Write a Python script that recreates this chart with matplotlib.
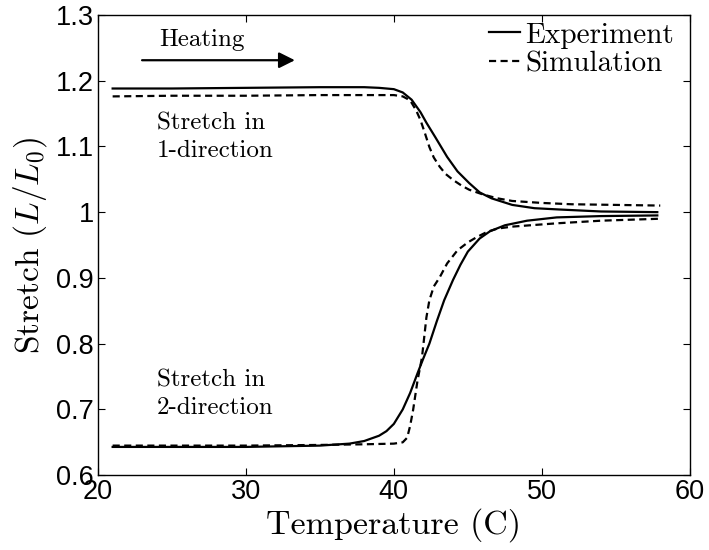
import matplotlib
matplotlib.use('Agg')
import matplotlib.pyplot as plt

plt.rcParams['mathtext.fontset'] = 'cm'
plt.rcParams['axes.formatter.use_mathtext'] = True

temp_exp1 = [21, 25, 30, 35, 37, 38, 39, 40, 40.6, 41.2, 41.8, 42.2, 42.8, 43.6,
             44.3, 45.1, 45.8, 46.6, 48, 49.5, 51.2, 54, 57.8]
exp1 = [1.188, 1.188, 1.189, 1.190, 1.190, 1.190, 1.189, 1.187, 1.182, 1.171, 1.152,
        1.136, 1.114, 1.084, 1.062, 1.044, 1.030, 1.021, 1.011, 1.006, 1.004, 1.001, 1.000]

temp_sim1 = [21, 25, 30, 35, 38, 40, 40.6, 41.1, 41.5, 41.8, 42.1, 42.4, 42.7, 43.1,
             43.5, 44.0, 44.6, 45.1, 46, 47, 48, 50, 52, 55, 58]
sim1 = [1.176, 1.177, 1.177, 1.178, 1.178, 1.178, 1.176, 1.170, 1.155, 1.140, 1.120,
        1.099, 1.083, 1.069, 1.058, 1.049, 1.040, 1.034, 1.027, 1.021, 1.017, 1.014,
        1.012, 1.011, 1.010]

temp_exp2 = [21, 25, 30, 35, 37, 38, 39, 39.5, 40, 40.6, 41.1, 41.6, 42, 42.4, 42.9,
             43.4, 44, 44.5, 45, 45.8, 46.5, 47.5, 49, 51, 54, 57.8]
exp2 = [0.643, 0.643, 0.643, 0.645, 0.648, 0.652, 0.660, 0.667, 0.678, 0.700, 0.725,
        0.755, 0.778, 0.800, 0.834, 0.866, 0.897, 0.920, 0.940, 0.960, 0.971, 0.980,
        0.987, 0.992, 0.994, 0.995]

temp_sim2 = [21, 30, 35, 38, 40, 40.6, 40.9, 41.1, 41.3, 41.6, 41.9, 42.2, 42.4, 42.7,
             43.1, 43.6, 44.3, 45, 45.6, 46.3, 47, 48, 49.2, 51, 54, 58]
sim2 = [0.645, 0.645, 0.646, 0.647, 0.648, 0.650, 0.657, 0.675, 0.699, 0.744, 0.779,
        0.840, 0.866, 0.887, 0.901, 0.922, 0.942, 0.954, 0.962, 0.970, 0.975, 0.978,
        0.980, 0.983, 0.987, 0.990]

xticks = [20, 30, 40, 50, 60]
yticks = [0.6, 0.7, 0.8, 0.9, 1.0, 1.1, 1.2, 1.3]
ytick_labels = ['0.6', '0.7', '0.8', '0.9', '1', '1.1', '1.2', '1.3']

serif = 'cmr10'
dash = (3.2, 2.0)

fig = plt.figure(figsize=(7.09, 5.5), dpi=100)
ax = fig.add_axes([0.138, 0.136, 0.835, 0.837])

ax.plot(temp_exp1, exp1, 'k-', lw=1.6, label='Experiment')
ax.plot(temp_sim1, sim1, 'k--', lw=1.6, dashes=dash, label='Simulation')
ax.plot(temp_exp2, exp2, 'k-', lw=1.6)
ax.plot(temp_sim2, sim2, 'k--', lw=1.6, dashes=dash)

ax.set_xlim(20, 60)
ax.set_ylim(0.6, 1.3)
ax.set_xticks(xticks)
ax.set_xticklabels([str(t) for t in xticks], family='Liberation Sans', fontsize=19.5)
ax.set_yticks(yticks)
ax.set_yticklabels(ytick_labels, family='Liberation Sans', fontsize=19.5)
ax.tick_params(direction='in', top=True, right=True, length=5, width=0.8, pad=3)
for s in ax.spines.values():
    s.set_linewidth(1.0)

ax.set_xlabel('Temperature (C)', family=serif, fontsize=24.5, labelpad=2)
ax.set_ylabel(r'Stretch $(L/L_0)$', family=serif, fontsize=24, labelpad=5)

ax.text(27.0, 1.262, 'Heating', family=serif, fontsize=18, ha='center', va='center')
ax.annotate('', xy=(33.5, 1.231), xytext=(22.8, 1.231),
            arrowprops=dict(arrowstyle='-|>', color='k', lw=1.6, mutation_scale=24))
ax.text(24.0, 1.114, 'Stretch in\n1-direction', family=serif, fontsize=18,
        ha='left', va='center', linespacing=1.3)
ax.text(24.0, 0.723, 'Stretch in\n2-direction', family=serif, fontsize=18,
        ha='left', va='center', linespacing=1.3)

leg = ax.legend(loc='upper right', bbox_to_anchor=(0.986, 1.0), frameon=False,
                handlelength=1.05, handletextpad=0.2,
                borderpad=0.0, borderaxespad=0.25, labelspacing=0.08,
                prop={'family': serif, 'size': 21})

fig.savefig('out.png', dpi=100)
